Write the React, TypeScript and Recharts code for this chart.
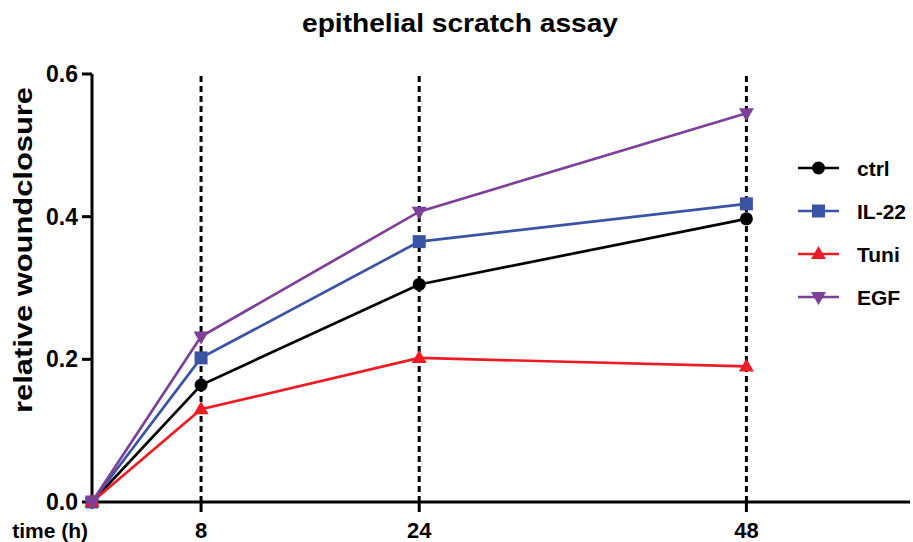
import React from "react"
import {
  LineChart,
  Line,
  XAxis,
  YAxis,
  ReferenceLine,
  Legend
} from "recharts"

// ── Data ──────────────────────────────────────────────────────────────────────

const TIMES = [0, 8, 24, 48]
const CTRL = [0, 0.164, 0.305, 0.397]
const IL22 = [0, 0.202, 0.365, 0.418]
const TUNI = [0, 0.13, 0.202, 0.19]
const EGF = [0, 0.232, 0.407, 0.545]

const X_TICKS = [0, 8, 24, 48]
const Y_TICKS = [0, 0.2, 0.4, 0.6]
const DASHED_TIMES = [8, 24, 48]

type Shape = "circle" | "square" | "triangleUp" | "triangleDown"

const SERIES: { key: string; name: string; color: string; shape: Shape }[] = [
  { key: "ctrl", name: "ctrl", color: "#000000", shape: "circle" },
  { key: "il22", name: "IL-22", color: "#3a53a4", shape: "square" },
  { key: "tuni", name: "Tuni", color: "#ed1c24", shape: "triangleUp" },
  { key: "egf", name: "EGF", color: "#7e3f98", shape: "triangleDown" }
]

const rows = TIMES.map((t, i) => ({
  t,
  ctrl: CTRL[i],
  il22: IL22[i],
  tuni: TUNI[i],
  egf: EGF[i]
}))

// ── Styling ───────────────────────────────────────────────────────────────────

const FONT = "'Liberation Sans', Arial, Helvetica, sans-serif"
const AXIS_STROKE = { stroke: "#000", strokeWidth: 3 }

const Marker = ({
  cx,
  cy,
  shape,
  color
}: {
  cx: number
  cy: number
  shape: Shape
  color: string
}) => {
  if (shape === "circle") return <circle cx={cx} cy={cy} r={6.5} fill={color} />
  if (shape === "square")
    return <rect x={cx - 6.5} y={cy - 6.5} width={13} height={13} fill={color} />
  if (shape === "triangleUp")
    return (
      <polygon
        points={`${cx},${cy - 8} ${cx - 7.5},${cy + 5} ${cx + 7.5},${cy + 5}`}
        fill={color}
      />
    )
  return (
    <polygon
      points={`${cx},${cy + 8} ${cx - 7.5},${cy - 5} ${cx + 7.5},${cy - 5}`}
      fill={color}
    />
  )
}

const makeDot = (shape: Shape, color: string) => (props: any) => {
  const { cx, cy, index } = props
  if (cx == null || cy == null) return <g key={index} />
  return (
    <g key={`${shape}-${index}`}>
      <Marker cx={cx} cy={cy} shape={shape} color={color} />
    </g>
  )
}

const XTick = (props: any) => {
  const { x, y, payload } = props
  if (payload.value === 0) {
    return (
      <text
        x={x - 4}
        y={y + 26}
        textAnchor="end"
        fontFamily={FONT}
        fontWeight={700}
        fontSize={21}
        fill="#000"
      >
        time (h)
      </text>
    )
  }
  return (
    <g>
      <line x1={x} x2={x} y1={y - 10} y2={y} stroke="#000" strokeWidth={3} />
      <text
        x={x}
        y={y + 26}
        textAnchor="middle"
        fontFamily={FONT}
        fontWeight={700}
        fontSize={22}
        fill="#000"
      >
        {payload.value}
      </text>
    </g>
  )
}

const YTick = (props: any) => {
  const { x, y, payload } = props
  return (
    <text
      x={x - 1}
      y={y + 8}
      textAnchor="end"
      fontFamily={FONT}
      fontWeight={700}
      fontSize={23}
      fill="#000"
    >
      {Number(payload.value).toFixed(1)}
    </text>
  )
}

const LegendBox = () => (
  <svg width={120} height={170}>
    {SERIES.map((s, i) => {
      const cy = 18 + i * 43
      return (
        <g key={s.key}>
          <line x1={8} x2={49} y1={cy} y2={cy} stroke={s.color} strokeWidth={2.5} />
          <Marker cx={28.5} cy={cy} shape={s.shape} color={s.color} />
          <text
            x={67}
            y={cy + 7.5}
            fontFamily={FONT}
            fontWeight={700}
            fontSize={21}
            fill="#000"
          >
            {s.name}
          </text>
        </g>
      )
    })}
  </svg>
)

export default function App() {
  return (
    <div
      style={{
        position: "absolute",
        left: 0,
        top: 0,
        width: 913,
        height: 542,
        background: "#fff"
      }}
    >
      <LineChart
        width={913}
        height={542}
        data={rows}
        margin={{ top: 74, right: 3, bottom: 0, left: 0 }}
      >
        <XAxis
          dataKey="t"
          type="number"
          domain={[0, 60]}
          ticks={X_TICKS}
          interval={0}
          height={40}
          tickSize={10}
          tickMargin={0}
          tickLine={false}
          axisLine={AXIS_STROKE}
          tick={<XTick />}
        />
        <YAxis
          type="number"
          domain={[0, 0.6]}
          ticks={Y_TICKS}
          interval={0}
          width={92}
          tickSize={10}
          tickMargin={3}
          axisLine={AXIS_STROKE}
          tickLine={{ stroke: "#000", strokeWidth: 3 }}
          tick={<YTick />}
        />
        {DASHED_TIMES.map(t => (
          <ReferenceLine
            key={t}
            x={t}
            stroke="#000"
            strokeWidth={3}
            strokeDasharray="6 4"
          />
        ))}
        {SERIES.map(s => (
          <Line
            key={s.key}
            dataKey={s.key}
            name={s.name}
            stroke={s.color}
            strokeWidth={2.7}
            dot={makeDot(s.shape, s.color)}
            activeDot={false}
            isAnimationActive={false}
          />
        ))}
        <Legend
          layout="horizontal"
          verticalAlign="middle"
          content={<LegendBox />}
          wrapperStyle={{ left: 790, top: 150, width: 120, height: 170 }}
        />
      </LineChart>
      <svg
        width={913}
        height={542}
        style={{ position: "absolute", left: 0, top: 0, pointerEvents: "none" }}
      >
        <text
          x={460}
          y={32}
          textAnchor="middle"
          textLength={316}
          lengthAdjust="spacingAndGlyphs"
          fontFamily={FONT}
          fontWeight={700}
          fontSize={26}
          fill="#000"
        >
          epithelial scratch assay
        </text>
        <text
          x={32}
          y={250}
          transform="rotate(-90 32 250)"
          textAnchor="middle"
          textLength={326}
          lengthAdjust="spacingAndGlyphs"
          fontFamily={FONT}
          fontWeight={700}
          fontSize={26}
          fill="#000"
        >
          relative woundclosure
        </text>
      </svg>
    </div>
  )
}
